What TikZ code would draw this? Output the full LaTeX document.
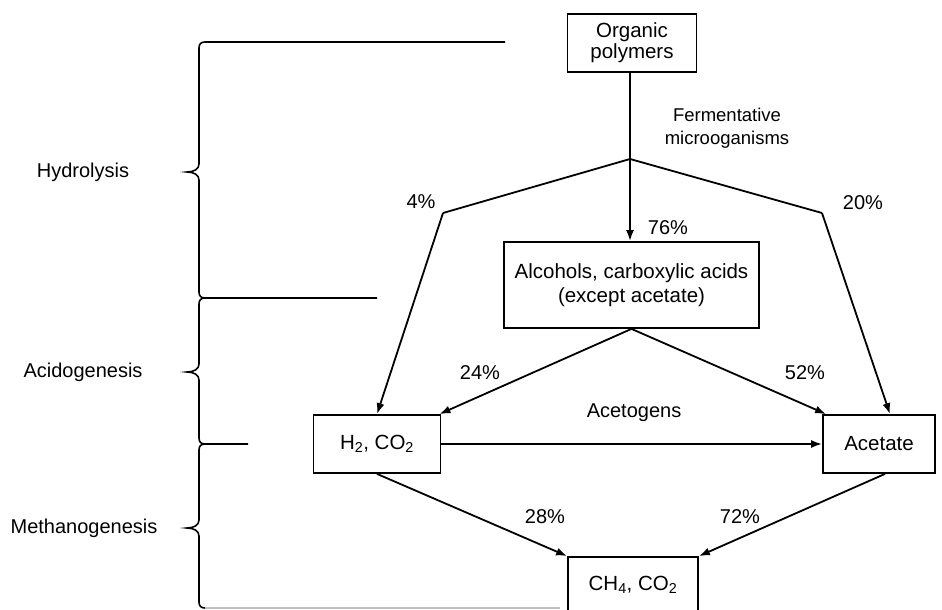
\documentclass[tikz,border=0pt]{standalone}
\usepackage{fontspec}
\setmainfont{Liberation Sans}
\usetikzlibrary{arrows.meta}
\begin{document}
\begin{tikzpicture}[x=1pt,y=-1pt,
  box/.style={draw,line width=1.8pt,inner sep=0pt,align=center,font=\fontsize{20.5}{24}\selectfont},
  lbl/.style={inner sep=0pt,align=center,font=\fontsize{20}{22}\selectfont},
  phase/.style={inner sep=0pt,font=\fontsize{20}{24}\selectfont},
  arr/.style={line width=1.8pt,-{Latex[length=11pt,width=8pt]}},
  ln/.style={line width=1.8pt},
  brace/.style={line width=1.6pt}]
\useasboundingbox (0,0) rectangle (942,610);
% boxes
\node[box,minimum width=129pt,minimum height=58pt] (org) at (632,43) {Organic\\[-3pt]polymers};
\node[box,minimum width=255pt,minimum height=86pt] (alc) at (631.5,285) {Alcohols, carboxylic acids\\(except acetate)};
\node[box,minimum width=127pt,minimum height=58pt] (h2) at (377,444) {H\textsubscript{2}, CO\textsubscript{2}};
\node[box,minimum width=112pt,minimum height=58pt] (acet) at (879,444) {Acetate};
\node[box,minimum width=130pt,minimum height=56pt] (ch4) at (633,585) {CH\textsubscript{4}, CO\textsubscript{2}};
% branch coordinates
\coordinate (br) at (630,159);
\coordinate (lc) at (443,213);
\coordinate (rc) at (822,213);
% connectors
\draw[arr] (org.south -| br) -- (alc.north -| br);
\draw[ln] (br) -- (lc);
\draw[arr] (lc) -- (h2.north);
\draw[ln] (br) -- (rc);
\draw[arr] (rc) -- ([xshift=11pt]acet.north);
\draw[arr] (alc.south) -- ([xshift=-2pt]h2.north east);
\draw[arr] (alc.south) -- ([xshift=4pt]acet.north west);
\draw[arr] (h2.east) -- (acet.west);
\draw[arr] (h2.south) -- (ch4.north west);
\draw[arr] ([xshift=6pt]acet.south) -- (ch4.north east);
% labels
\node[lbl,font=\fontsize{18.5}{23}\selectfont] (ferm) at (727,128) {Fermentative\\microoganisms};
\node[lbl] (p4) at (421,202) {4\%};
\node[lbl] (p76) at (668,228) {76\%};
\node[lbl] (p20) at (863,203) {20\%};
\node[lbl] (p24) at (480,373) {24\%};
\node[lbl] (p52) at (805,373) {52\%};
\node[lbl] (acg) at (634,413) {Acetogens};
\node[lbl] (p28) at (545,517) {28\%};
\node[lbl] (p72) at (740,517) {72\%};
% phases
\node[phase] (hyd) at (83,172) {Hydrolysis};
\node[phase] (acid) at (83,372) {Acidogenesis};
\node[phase] (meth) at (84,528) {Methanogenesis};
% braces
\draw[brace] (505,42) -- (205,42) .. controls (201,42) and (199,44) .. (199,48) -- (199,164)
  .. controls (199,169) and (194,172) .. (187,172) .. controls (194,172) and (199,175) .. (199,180)
  -- (199,292) .. controls (199,296) and (201,298) .. (205,298) -- (377,298);
\draw[brace] (205,298) .. controls (201,298) and (199,300) .. (199,304) -- (199,364)
  .. controls (199,369) and (194,372) .. (187,372) .. controls (194,372) and (199,375) .. (199,380)
  -- (199,438) .. controls (199,442) and (201,444) .. (205,444) -- (248,444);
\draw[brace] (205,444) .. controls (201,444) and (199,446) .. (199,450) -- (199,520)
  .. controls (199,525) and (194,528) .. (187,528) .. controls (194,528) and (199,531) .. (199,536)
  -- (199,602) .. controls (199,606) and (201,608) .. (205,608);
\draw[brace,gray!50] (205,608) -- (560,608);
\end{tikzpicture}
\end{document}
